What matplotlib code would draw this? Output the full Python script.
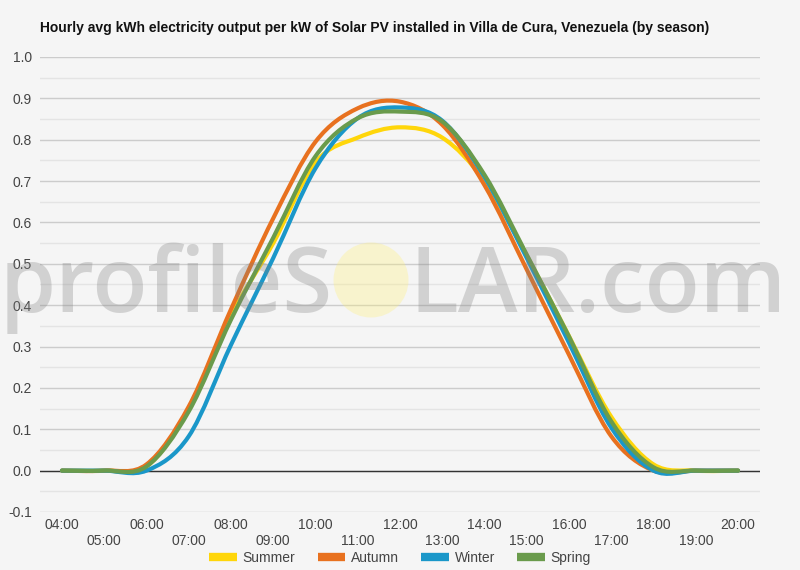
import numpy as np
import matplotlib
matplotlib.use("Agg")
import matplotlib.pyplot as plt
from matplotlib.path import Path
from matplotlib.patches import PathPatch, Ellipse
from matplotlib.lines import Line2D

plt.rcParams['font.family'] = ['Liberation Sans', 'DejaVu Sans']

# hourly averages (kWh per kW)
hours = list(range(4, 21))
hour_labels = ["%02d:00" % h for h in hours]
summer = [0, 0, 0.01, 0.15, 0.375, 0.55, 0.745, 0.805, 0.83, 0.805, 0.70, 0.52, 0.325, 0.13, 0.015, 0, 0]
autumn = [0, 0, 0.015, 0.155, 0.39, 0.61, 0.795, 0.876, 0.892, 0.836, 0.69, 0.486, 0.28, 0.083, 0, 0, 0]
winter = [0, 0, 0, 0.083, 0.304, 0.514, 0.731, 0.852, 0.878, 0.846, 0.71, 0.514, 0.309, 0.104, 0, 0, 0]
spring = [0, 0, 0.01, 0.143, 0.365, 0.563, 0.76, 0.852, 0.868, 0.844, 0.715, 0.522, 0.324, 0.119, 0.008, 0, 0]

series = [("Summer", summer, "#FFD60A"),
          ("Autumn", autumn, "#E8711F"),
          ("Winter", winter, "#1A97C9"),
          ("Spring", spring, "#6A9B4C")]

bg = "#f5f5f5"


def smooth_path(x, y):
    # catmull-rom through the points, drawn as cubic bezier segments
    pts = np.column_stack([x, y]).astype(float)
    ext = np.vstack([pts[0], pts, pts[-1]])
    verts = [pts[0]]
    codes = [Path.MOVETO]
    for i in range(len(pts) - 1):
        p0, p1, p2, p3 = ext[i], ext[i + 1], ext[i + 2], ext[i + 3]
        verts += [p1 + (p2 - p0) / 6.0, p2 - (p3 - p1) / 6.0, p2]
        codes += [Path.CURVE4] * 3
    return Path(verts, codes)


fig = plt.figure(figsize=(8, 5.7), dpi=100, facecolor=bg)
ax = fig.add_axes([0.05, 0.1018, 0.90, 0.7982])
ax.set_facecolor(bg)

for name, vals, col in series:
    ax.add_patch(PathPatch(smooth_path(hours, vals), fill=False, edgecolor=col,
                           lw=3, capstyle='round', joinstyle='round', zorder=3))

ax.set_xlim(3.48, 20.52)
ax.set_ylim(-0.1, 1.0)
ax.set_yticks(np.arange(-0.1, 1.01, 0.1))
ax.set_yticklabels(["%.1f" % v for v in np.arange(-0.1, 1.01, 0.1)])
ax.set_yticks(np.arange(-0.05, 1.0, 0.1), minor=True)
ax.grid(True, axis='y', which='major', color='#cccccc', lw=1)
ax.grid(True, axis='y', which='minor', color='#e4e4e4', lw=1)
ax.axhline(0, color='#333333', lw=1, zorder=2)

ax.set_xticks(hours)
ax.set_xticklabels([lab if i % 2 == 0 else "\n" + lab for i, lab in enumerate(hour_labels)],
                   linespacing=1.2)
ax.tick_params(axis='both', which='both', length=0, labelsize=10, labelcolor='#444444')
ax.tick_params(axis='x', pad=4)
ax.tick_params(axis='y', pad=6)
for s in ax.spines.values():
    s.set_visible(False)

fig.text(0.05, 0.951, "Hourly avg kWh electricity output per kW of Solar PV installed in Villa de Cura, Venezuela (by season)",
         fontsize=10, fontweight='bold', color='#111111', va='center', ha='left')

handles = [Line2D([], [], color=c, lw=6, solid_capstyle='butt') for _, _, c in series]
fig.legend(handles, [n for n, _, _ in series], loc='center', bbox_to_anchor=(0.5, 0.021),
           ncol=4, frameon=False, fontsize=10, handlelength=2.0, handletextpad=0.4,
           columnspacing=1.6, labelcolor='#444444')

# watermark
wm = dict(fontsize=65, family=['Open Sans', 'Liberation Sans'], fontweight='semibold',
          color=(0.5, 0.5, 0.5), alpha=0.3, va='baseline', zorder=10)
fig.text(333 / 800, 1 - 312 / 570, "profileS", ha='right', **wm)
fig.text(409 / 800, 1 - 312 / 570, "LAR.com", ha='left', **wm)
fig.add_artist(Ellipse((371 / 800, 1 - 280 / 570), 75 / 800, 75 / 570, transform=fig.transFigure,
                       facecolor=(1.0, 0.94, 0.45), alpha=0.3, edgecolor='none', zorder=10))

fig.savefig("out.png", dpi=100, facecolor=bg)
